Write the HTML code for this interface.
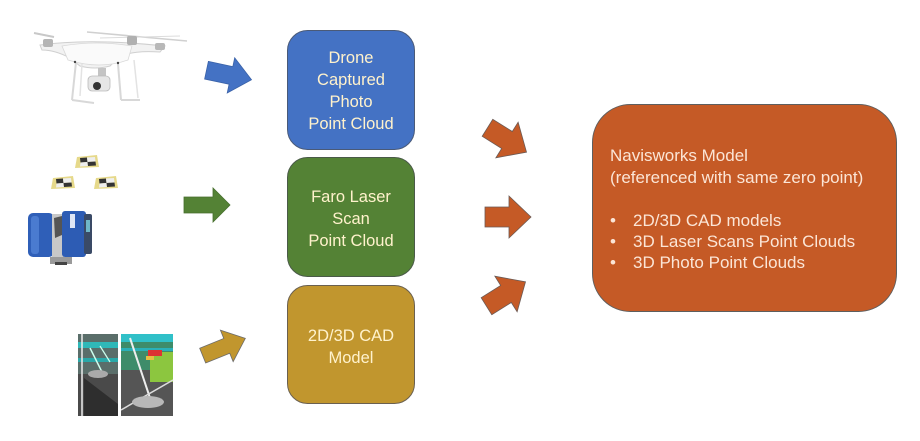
<!DOCTYPE html>
<html>
<head>
<meta charset="utf-8">
<style>
html,body{margin:0;padding:0;background:#fff;}
svg{display:block;}
text{font-family:"Liberation Sans",sans-serif;}
</style>
</head>
<body>
<svg width="920" height="441" viewBox="0 0 920 441" xmlns="http://www.w3.org/2000/svg">
<rect width="920" height="441" fill="#fff"/>

<!-- Drone -->
<g>
  <line x1="34" y1="33" x2="54" y2="37" stroke="#c8c8c8" stroke-width="2"/>
  <line x1="87" y1="32" x2="187" y2="41" stroke="#d0d0d0" stroke-width="1.5"/>
  <line x1="100" y1="38" x2="180" y2="36" stroke="#dcdcdc" stroke-width="1"/>
  <path d="M40 45 Q90 38 165 46 L160 52 Q130 50 118 58 L110 66 Q95 70 80 66 L70 58 Q55 50 42 50 Z" fill="#f2f2f2" stroke="#cfcfcf" stroke-width="1"/>
  <path d="M62 46 Q97 40 132 46 L128 60 Q100 70 68 60 Z" fill="#fafafa" stroke="#d8d8d8" stroke-width="0.8"/>
  <rect x="43" y="39" width="10" height="8" rx="2" fill="#b5b5b5"/>
  <rect x="127" y="36" width="10" height="9" rx="2" fill="#b0b0b0"/>
  <rect x="155" y="43" width="10" height="7" rx="2" fill="#b8b8b8"/>
  <line x1="76" y1="62" x2="72" y2="100" stroke="#d8d8d8" stroke-width="2"/>
  <line x1="118" y1="64" x2="121" y2="100" stroke="#d8d8d8" stroke-width="2"/>
  <line x1="72" y1="100" x2="94" y2="103" stroke="#d8d8d8" stroke-width="2"/>
  <line x1="121" y1="100" x2="140" y2="100" stroke="#d8d8d8" stroke-width="2"/>
  <line x1="82" y1="64" x2="80" y2="96" stroke="#e3e3e3" stroke-width="1.5"/>
  <line x1="134" y1="60" x2="138" y2="98" stroke="#e3e3e3" stroke-width="1.5"/>
  <rect x="98" y="68" width="8" height="8" fill="#c4c4c4"/>
  <rect x="88" y="76" width="22" height="15" rx="4" fill="#e6e6e6" stroke="#bbb" stroke-width="0.8"/>
  <circle cx="97" cy="86" r="4" fill="#333"/>
  <circle cx="75" cy="62" r="1.2" fill="#444"/>
  <circle cx="118" cy="63" r="1.2" fill="#444"/>
</g>

<!-- Targets -->
<g>
  <g transform="translate(75,155)">
    <path d="M2 2 L22 0 L24 12 L0 13 Z" fill="#e6d98a"/>
    <path d="M5 3 L12 2.5 L12.5 7 L5.5 7.5 Z" fill="#333"/>
    <path d="M12 2.5 L20 2 L20.5 6.5 L12.5 7 Z" fill="#eee"/>
    <path d="M5.5 7.5 L12.5 7 L13 11 L5 11.5 Z" fill="#eee"/>
    <path d="M12.5 7 L20.5 6.5 L21 10.5 L13 11 Z" fill="#333"/>
  </g>
  <g transform="translate(51,176)">
    <path d="M2 2 L22 0 L24 12 L0 13 Z" fill="#e6d98a"/>
    <path d="M5 3 L12 2.5 L12.5 7 L5.5 7.5 Z" fill="#333"/>
    <path d="M12 2.5 L20 2 L20.5 6.5 L12.5 7 Z" fill="#eee"/>
    <path d="M5.5 7.5 L12.5 7 L13 11 L5 11.5 Z" fill="#eee"/>
    <path d="M12.5 7 L20.5 6.5 L21 10.5 L13 11 Z" fill="#333"/>
  </g>
  <g transform="translate(94,176)">
    <path d="M2 2 L22 0 L24 12 L0 13 Z" fill="#e6d98a"/>
    <path d="M5 3 L12 2.5 L12.5 7 L5.5 7.5 Z" fill="#333"/>
    <path d="M12 2.5 L20 2 L20.5 6.5 L12.5 7 Z" fill="#eee"/>
    <path d="M5.5 7.5 L12.5 7 L13 11 L5 11.5 Z" fill="#eee"/>
    <path d="M12.5 7 L20.5 6.5 L21 10.5 L13 11 Z" fill="#333"/>
  </g>
</g>

<!-- Scanner -->
<g>
  <rect x="28" y="213" width="26" height="44" rx="5" fill="#2f5fb8"/>
  <rect x="31" y="216" width="8" height="38" rx="3" fill="#4a7bd0"/>
  <rect x="52" y="214" width="12" height="44" fill="#c8c8c8"/>
  <path d="M54 218 L62 216 L62 235 L55 238 Z" fill="#555"/>
  <rect x="62" y="211" width="24" height="46" rx="3" fill="#2d5cb4"/>
  <rect x="70" y="214" width="5" height="14" fill="#dfe6f5"/>
  <rect x="84" y="214" width="8" height="40" rx="2" fill="#3a4a66"/>
  <rect x="86" y="220" width="4" height="12" fill="#6fb7c9"/>
  <rect x="50" y="257" width="22" height="7" fill="#9a9a9a"/>
  <rect x="55" y="262" width="12" height="3" fill="#444"/>
</g>

<!-- CAD image -->
<g>
  <rect x="78" y="334" width="40" height="82" fill="#4a4a4a"/>
  <rect x="78" y="334" width="40" height="40" fill="#5a6e6a"/>
  <rect x="78" y="342" width="40" height="6" fill="#2fb8b8"/>
  <rect x="78" y="358" width="40" height="4" fill="#2aa8a8"/>
  <line x1="82" y1="334" x2="82" y2="416" stroke="#eee" stroke-width="1.5"/>
  <line x1="90" y1="348" x2="102" y2="372" stroke="#cfe" stroke-width="1.5"/>
  <line x1="100" y1="346" x2="110" y2="362" stroke="#cfe" stroke-width="1.2"/>
  <ellipse cx="98" cy="374" rx="10" ry="4" fill="#aaa"/>
  <path d="M84 378 L118 404 L118 416 L84 416 Z" fill="#2e2e2e"/>
  <rect x="121" y="334" width="52" height="82" fill="#555"/>
  <rect x="121" y="334" width="52" height="36" fill="#3e8c6a"/>
  <rect x="121" y="334" width="52" height="8" fill="#30c0c8"/>
  <rect x="121" y="348" width="52" height="3" fill="#2ab0b8"/>
  <rect x="150" y="352" width="23" height="30" fill="#8cc63f"/>
  <rect x="148" y="350" width="14" height="6" fill="#d33"/>
  <rect x="146" y="356" width="8" height="4" fill="#e8c040"/>
  <line x1="130" y1="338" x2="150" y2="398" stroke="#eee" stroke-width="2"/>
  <line x1="121" y1="410" x2="173" y2="380" stroke="#ddd" stroke-width="1.5"/>
  <ellipse cx="148" cy="402" rx="16" ry="6" fill="#b8b8b8"/>
  <rect x="118" y="334" width="3" height="82" fill="#fff"/>
</g>

<!-- Left arrows -->
<g transform="translate(229,75) rotate(12)" >
  <path d="M-23 -9 L2 -9 L2 -18 L23 0 L2 18 L2 9 L-23 9 Z" fill="#4472c4" stroke="#3a62a8" stroke-width="0.8"/>
</g>
<g transform="translate(207,205)">
  <path d="M-23 -8 L6 -8 L6 -17 L23 0 L6 17 L6 8 L-23 8 Z" fill="#548235" stroke="#476f2d" stroke-width="0.8"/>
</g>
<g transform="translate(224,347) rotate(-22)">
  <path d="M-23 -8 L3 -8 L3 -17 L23 0 L3 17 L3 8 L-23 8 Z" fill="#c1962e" stroke="#6b6b6b" stroke-width="0.8"/>
</g>

<!-- Boxes -->
<rect x="287.5" y="30.5" width="127" height="119" rx="20" fill="#4472c4" stroke="#4a5a78" stroke-width="1"/>
<rect x="287.5" y="157.5" width="127" height="119" rx="20" fill="#548235" stroke="#4a5a48" stroke-width="1"/>
<rect x="287.5" y="285.5" width="127" height="118" rx="20" fill="#c1962e" stroke="#6a6050" stroke-width="1"/>

<g fill="#fff2cc" font-size="16.5" text-anchor="middle">
  <text x="351" y="63">Drone</text>
  <text x="351" y="85">Captured</text>
  <text x="351" y="107">Photo</text>
  <text x="351" y="129">Point Cloud</text>
  <text x="351" y="202">Faro Laser</text>
  <text x="351" y="224">Scan</text>
  <text x="351" y="246">Point Cloud</text>
  <text x="351" y="341">2D/3D CAD</text>
  <text x="351" y="363">Model</text>
</g>

<!-- Orange arrows -->
<g transform="translate(507,140) rotate(32)">
  <path d="M-23 -10 L0 -10 L0 -21 L23 0 L0 21 L0 10 L-23 10 Z" fill="#c55a26" stroke="#6b5a55" stroke-width="0.8"/>
</g>
<g transform="translate(508,217)">
  <path d="M-23 -10 L1 -10 L1 -21 L23 0 L1 21 L1 10 L-23 10 Z" fill="#c55a26" stroke="#6b5a55" stroke-width="0.8"/>
</g>
<g transform="translate(506,294) rotate(-32)">
  <path d="M-23 -10 L0 -10 L0 -21 L23 0 L0 21 L0 10 L-23 10 Z" fill="#c55a26" stroke="#6b5a55" stroke-width="0.8"/>
</g>

<!-- Big box -->
<rect x="592.5" y="104.5" width="304" height="207" rx="38" fill="#c55a26" stroke="#5e5e5e" stroke-width="1"/>
<g fill="#fbe5d6" font-size="17">
  <text x="610" y="161">Navisworks Model</text>
  <text x="610" y="183">(referenced with same zero point)</text>
  <text x="610" y="226">•</text>
  <text x="633" y="226">2D/3D CAD models</text>
  <text x="610" y="247">•</text>
  <text x="633" y="247">3D Laser Scans Point Clouds</text>
  <text x="610" y="268">•</text>
  <text x="633" y="268">3D Photo Point Clouds</text>
</g>
</svg>
</body>
</html>
